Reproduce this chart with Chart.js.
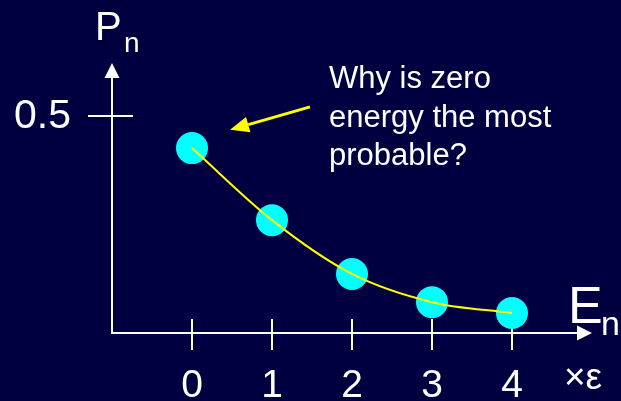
<!DOCTYPE html>
<html><head><meta charset="utf-8">
<script src="https://cdn.jsdelivr.net/npm/chart.js@4"></script>
<style>html,body{margin:0;padding:0;background:#000040;}canvas{display:block}</style>
</head><body>
<canvas id="c" width="621" height="401"></canvas>
<script>
// ---- data ----
const energies = [0, 1, 2, 3, 4];
const probabilities = [0.426, 0.26, 0.136, 0.071, 0.046];
const xTickValues = [0, 1, 2, 3, 4];
const xTickLabels = ['0', '1', '2', '3', '4'];
const yTickValues = [0.5];
const yTickLabels = ['0.5'];
const yTitle = ['P', 'n'];
const xTitle = ['E', 'n'];
const xUnit = '×ε';
const noteLines = ['Why is zero', 'energy the most', 'probable?'];
const noteArrowFrom = [1.475, 0.521];
const noteArrowTo = [0.475, 0.468];

const BG = '#000040', FG = '#ffffff', DOT = '#00ffff', CURVE = '#ffff00';
const FONT = '"Liberation Sans", Arial, sans-serif';

const points = energies.map((e, i) => ({x: e, y: probabilities[i]}));

const axesPlugin = {
  id: 'axes',
  beforeDraw(chart) {
    const ctx = chart.ctx;
    ctx.save();
    ctx.fillStyle = BG;
    ctx.fillRect(0, 0, chart.width, chart.height);
    ctx.restore();
  },
  beforeDatasetsDraw(chart) {
    const {ctx, chartArea: a, scales: {x, y}} = chart;
    ctx.save();
    ctx.strokeStyle = FG; ctx.fillStyle = FG; ctx.lineWidth = 2;
    const y0 = y.getPixelForValue(0);
    const x0 = a.left;
    // y axis
    ctx.beginPath(); ctx.moveTo(x0, y0 + 1); ctx.lineTo(x0, a.top + 12); ctx.stroke();
    ctx.beginPath(); ctx.moveTo(x0, a.top); ctx.lineTo(x0 - 7.5, a.top + 15); ctx.lineTo(x0 + 7.5, a.top + 15); ctx.closePath(); ctx.fill();
    // x axis
    ctx.beginPath(); ctx.moveTo(x0 - 1, y0); ctx.lineTo(a.right - 12, y0); ctx.stroke();
    ctx.beginPath(); ctx.moveTo(a.right, y0); ctx.lineTo(a.right - 15, y0 - 7.5); ctx.lineTo(a.right - 15, y0 + 7.5); ctx.closePath(); ctx.fill();
    // x ticks
    xTickValues.forEach(v => {
      const px = Math.round(x.getPixelForValue(v));
      ctx.beginPath(); ctx.moveTo(px, y0 - 14); ctx.lineTo(px, y0 + 17); ctx.stroke();
    });
    // y ticks
    yTickValues.forEach(v => {
      const py = Math.round(y.getPixelForValue(v));
      ctx.beginPath(); ctx.moveTo(x0 - 24, py); ctx.lineTo(x0 + 21, py); ctx.stroke();
    });
    ctx.restore();
  },
  afterDraw(chart) {
    const {ctx, chartArea: a, scales: {x, y}} = chart;
    ctx.save();
    ctx.fillStyle = FG;
    ctx.textBaseline = 'alphabetic';
    const y0 = y.getPixelForValue(0);
    // x tick labels
    ctx.font = '39px ' + FONT; ctx.textAlign = 'center';
    xTickValues.forEach((v, i) => ctx.fillText(xTickLabels[i], x.getPixelForValue(v), y0 + 64));
    // y tick labels
    ctx.textAlign = 'right';
    ctx.font = '41px ' + FONT;
    yTickValues.forEach((v, i) => ctx.fillText(yTickLabels[i], a.left - 41, y.getPixelForValue(v) + 12));
    // y title
    ctx.textAlign = 'left';
    ctx.font = '40px ' + FONT; ctx.fillText(yTitle[0], a.left - 17, 40);
    ctx.font = '28px ' + FONT; ctx.fillText(yTitle[1], a.left + 12, 52);
    // x title
    ctx.font = '52px ' + FONT; ctx.fillText(xTitle[0], a.right - 24, y0 - 10);
    ctx.font = '34px ' + FONT; ctx.fillText(xTitle[1], a.right + 9, y0 + 2);
    // unit
    ctx.font = '37px ' + FONT; ctx.fillText(xUnit, a.right - 28, y0 + 56);
    // annotation text
    ctx.font = '31px ' + FONT;
    noteLines.forEach((t, i) => ctx.fillText(t, 329, 88 + i * 38.5));
    // annotation arrow
    const fx = x.getPixelForValue(noteArrowFrom[0]), fy = y.getPixelForValue(noteArrowFrom[1]);
    const tx = x.getPixelForValue(noteArrowTo[0]), ty = y.getPixelForValue(noteArrowTo[1]);
    const ang = Math.atan2(ty - fy, tx - fx);
    const hl = 19, hw = 8;
    const bx = tx - hl * Math.cos(ang), by = ty - hl * Math.sin(ang);
    ctx.strokeStyle = CURVE; ctx.fillStyle = CURVE; ctx.lineWidth = 3;
    ctx.beginPath(); ctx.moveTo(fx, fy); ctx.lineTo(bx, by); ctx.stroke();
    ctx.beginPath(); ctx.moveTo(tx, ty);
    ctx.lineTo(bx + hw * Math.sin(ang), by - hw * Math.cos(ang));
    ctx.lineTo(bx - hw * Math.sin(ang), by + hw * Math.cos(ang));
    ctx.closePath(); ctx.fill();
    ctx.restore();
  }
};

new Chart(document.getElementById('c'), {
  type: 'scatter',
  data: {
    datasets: [
      {
        label: 'curve', data: points, showLine: true, order: 0,
        borderColor: CURVE, borderWidth: 2, pointRadius: 0,
        cubicInterpolationMode: 'monotone', fill: false
      },
      {
        label: 'P_n', data: points, showLine: false, order: 1,
        pointRadius: 16, pointBackgroundColor: DOT, pointBorderWidth: 0, pointBorderColor: DOT
      }
    ]
  },
  options: {
    responsive: false, animation: false,
    layout: {padding: {left: 112, right: 29, top: 63, bottom: 68}},
    plugins: {legend: {display: false}, tooltip: {enabled: false}},
    scales: {
      x: {type: 'linear', min: -1, max: 5, display: false},
      y: {type: 'linear', min: 0, max: 0.622, display: false}
    }
  },
  plugins: [axesPlugin]
});
</script>
</body></html>
